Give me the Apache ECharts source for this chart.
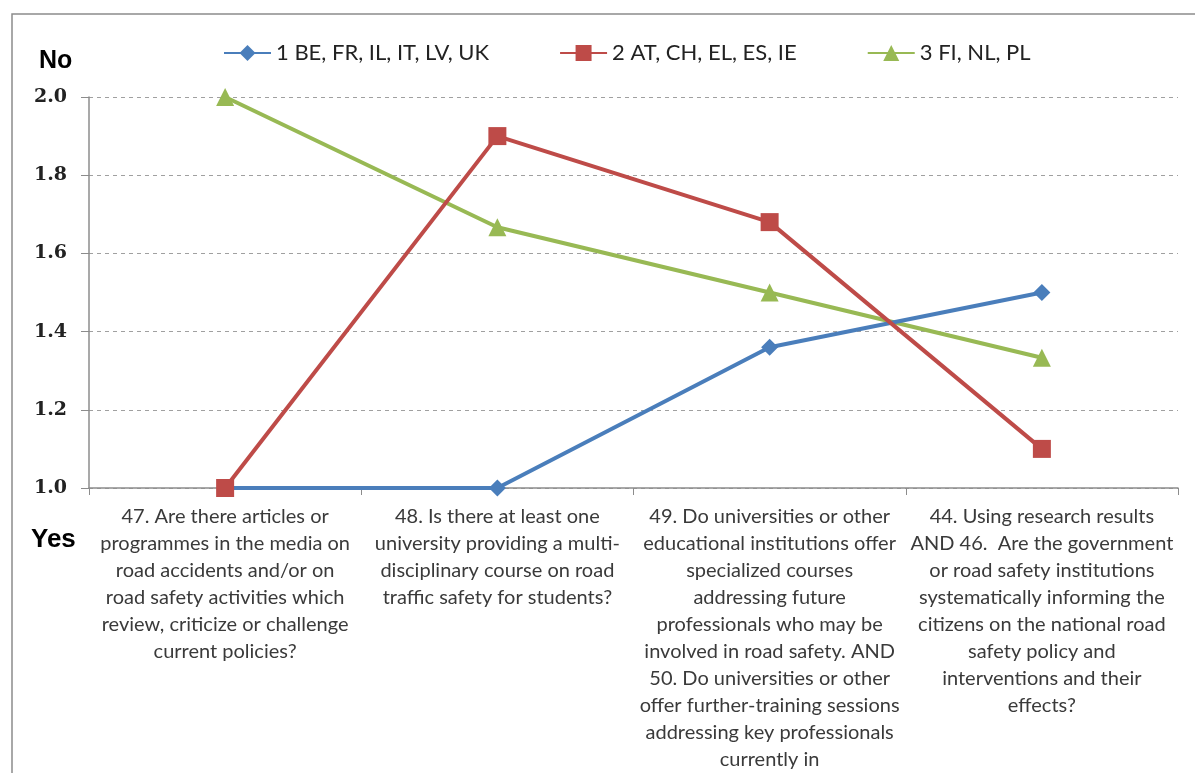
<!DOCTYPE html>
<html>
<head>
<meta charset="utf-8">
<script src="https://cdn.jsdelivr.net/npm/echarts@6/dist/echarts.min.js"></script>
<style>
  html, body { margin: 0; padding: 0; background: #fff; }
  #main { width: 1195px; height: 773px; }
</style>
</head>
<body>
<div id="main"></div>
<script>
  // question labels (line breaks as in the original)
  var categories = [
    '47. Are there articles or\nprogrammes in the media on\nroad accidents and/or on\nroad safety activities which\nreview, criticize or challenge\ncurrent policies?',
    '48. Is there at least one\nuniversity providing a multi-\ndisciplinary course on road\ntraffic safety for students?',
    '49. Do universities or other\neducational institutions offer\nspecialized courses\naddressing future\nprofessionals who may be\ninvolved in road safety. AND\n50. Do universities or other\noffer further-training sessions\naddressing key professionals\ncurrently in',
    '44. Using research results\nAND 46.  Are the government\nor road safety institutions\nsystematically informing the\ncitizens on the national road\nsafety policy and\ninterventions and their\neffects?'
  ];
  var group1 = [1.0, 1.0, 1.36, 1.5];
  var group2 = [1.0, 1.9, 1.68, 1.1];
  var group3 = [2.0, 1.667, 1.5, 1.333];
  var seriesNames = ['1 BE, FR, IL, IT, LV, UK', '2 AT, CH, EL, ES, IE', '3 FI, NL, PL'];
  var yTicks = { min: 1.0, max: 2.0, step: 0.2 };

  var chart = echarts.init(document.getElementById('main'));
  chart.setOption({
    backgroundColor: '#fff',
    animation: false,
    graphic: [
      {
        type: 'rect',
        shape: { x: 12, y: 14, width: 1200, height: 800 },
        style: { fill: 'none', stroke: '#8c8c8c', lineWidth: 1.5 },
        silent: true
      },
      {
        type: 'text', left: 39, top: 49,
        style: { text: 'No', font: 'bold 25px "Liberation Sans", Arial', fill: '#000' }
      },
      {
        type: 'text', left: 31, top: 527,
        style: { text: 'Yes', font: 'bold 26px "Liberation Sans", Arial', fill: '#000' }
      }
    ],
    legend: {
      top: 37,
      left: 218,
      itemWidth: 47,
      itemHeight: 20,
      itemGap: 70,
      textStyle: {
        fontFamily: '"Liberation Sans Narrow", "Lato", sans-serif',
        fontSize: 22,
        color: '#222'
      },
      data: seriesNames
    },
    grid: {
      left: 89,
      right: 17,
      top: 97,
      bottom: 285,
      containLabel: false
    },
    xAxis: {
      type: 'category',
      data: categories,
      boundaryGap: true,
      axisLine: { lineStyle: { color: '#8c8c8c', width: 1.5 } },
      axisTick: { show: true, length: 7, lineStyle: { color: '#8c8c8c' } },
      axisLabel: {
        interval: 0,
        margin: 15,
        fontFamily: 'Lato, "Open Sans", sans-serif',
        fontSize: 20,
        lineHeight: 27,
        color: '#3a3a3a',
        align: 'center'
      }
    },
    yAxis: {
      type: 'value',
      min: yTicks.min,
      max: yTicks.max,
      interval: yTicks.step,
      axisLine: { show: true, lineStyle: { color: '#8c8c8c', width: 1.5 } },
      axisTick: { show: true, inside: false, length: 8, lineStyle: { color: '#8c8c8c' } },
      axisLabel: {
        margin: 22,
        fontFamily: '"DejaVu Serif", "Liberation Serif", serif',
        fontWeight: 'bold',
        fontSize: 19,
        color: '#222',
        formatter: function (v) { return v.toFixed(1); }
      },
      splitLine: { show: true, lineStyle: { color: '#a0a0a0', type: [4, 4], width: 1 } }
    },
    series: [
      {
        name: seriesNames[0],
        type: 'line',
        data: group1,
        symbol: 'diamond',
        symbolSize: 17,
        itemStyle: { color: '#4a7ebb' },
        lineStyle: { color: '#4a7ebb', width: 4 },
        z: 3
      },
      {
        name: seriesNames[1],
        type: 'line',
        data: group2,
        symbol: 'rect',
        symbolSize: 18,
        itemStyle: { color: '#be4b48' },
        lineStyle: { color: '#be4b48', width: 4 },
        z: 4
      },
      {
        name: seriesNames[2],
        type: 'line',
        data: group3,
        symbol: 'triangle',
        symbolSize: 18,
        itemStyle: { color: '#98b954' },
        lineStyle: { color: '#98b954', width: 4 },
        z: 2
      }
    ]
  });
</script>
</body>
</html>
